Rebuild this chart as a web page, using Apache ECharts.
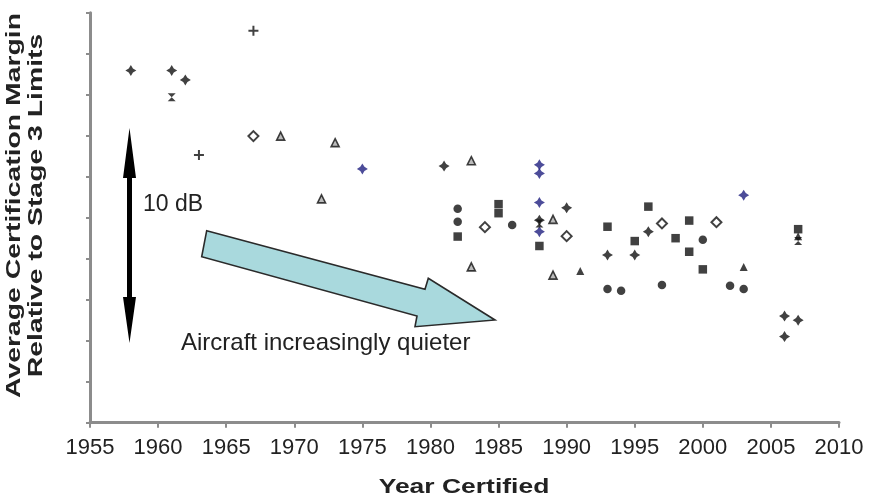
<!DOCTYPE html>
<html>
<head>
<meta charset="utf-8">
<script src="https://cdn.jsdelivr.net/npm/echarts@6/dist/echarts.min.js"></script>
<style>
html,body{margin:0;padding:0;background:#fff;}
#chart{width:869px;height:499px;}
</style>
</head>
<body>
<div id="chart"></div>
<script>
// X tick labels are years 1955..2010 (step 5); Y axis has 10 unlabeled ticks (relative dB scale)
var xTickYears = [1955, 1960, 1965, 1970, 1975, 1980, 1985, 1990, 1995, 2000, 2005, 2010];

// [year certified, relative margin (axis units)]
var starBlack = [[1958, 8.59], [1961, 8.59], [1962, 8.36], [1981, 6.26], [1988, 4.94], [1990, 5.24],
                 [1993, 4.09], [1995, 4.09], [1996, 4.66], [2006, 2.60], [2006, 2.10], [2007, 2.50]];
var plusThin = [[1963, 6.53], [1967, 9.56]];
var starBlue = [[1975, 6.19], [1988, 6.29], [1988, 6.08], [1988, 5.37], [1988, 4.66], [2003, 5.55]];
var hourglass = [[1961, 7.94], [1988, 4.86], [2007, 4.43]];
var openDiamond = [[1967, 6.99], [1984, 4.77], [1990, 4.55], [1997, 4.86], [2001, 4.89]];
var openTriangle = [[1969, 6.99], [1972, 5.46], [1973, 6.83], [1983, 6.39], [1983, 3.80], [1989, 4.96], [1989, 3.60]];
var filledTriangle = [[1991, 3.70], [2003, 3.80], [2007, 4.55]];
var circles = [[1982, 5.22], [1982, 4.90], [1986, 4.82], [1993, 3.26], [1994, 3.22], [1997, 3.36],
               [2000, 4.46], [2002, 3.34], [2003, 3.26]];
var squares = [[1982, 4.54], [1985, 5.33], [1985, 5.11], [1988, 4.31], [1993, 4.78], [1995, 4.43],
               [1996, 5.27], [1998, 4.50], [1999, 4.93], [1999, 4.17], [2000, 3.74], [2007, 4.72]];

var yTitle = 'Average Certification Margin\nRelative to Stage 3 Limits';
var xTitle = 'Year Certified';
var noteDb = '10 dB';
var noteTrend = 'Aircraft increasingly quieter';

var STAR = 'path://M5,0L6.9,3.1L10,5L6.9,6.9L5,10L3.1,6.9L0,5L3.1,3.1Z';
var PLUS = 'path://M4,0H6V4H10V6H6V10H4V6H0V4H4Z';
var HOUR = 'path://M0,0L10,0L5,5L10,10L0,10L5,5Z';
var BLACK = '#111111';
var BLUE = '#1f1f80';

function sc(name, data, symbol, size, style) {
  return {
    name: name, type: 'scatter', data: data, symbol: symbol, symbolSize: size,
    itemStyle: style, z: 5
  };
}

var chart = echarts.init(document.getElementById('chart'), null, {renderer: 'canvas'});
chart.setOption({
  animation: false,
  backgroundColor: '#ffffff',
  grid: {left: 90, right: 30, top: 12.7, bottom: 76.3, containLabel: false},
  xAxis: {
    type: 'value', min: xTickYears[0], max: xTickYears[xTickYears.length - 1], interval: 5,
    axisLine: {show: true, lineStyle: {color: '#8c8c8c', width: 3}},
    axisTick: {show: true, length: 5, lineStyle: {color: '#8c8c8c', width: 2}},
    axisLabel: {fontSize: 22, color: '#222', margin: 14, fontFamily: 'Liberation Sans',
                showMinLabel: true, showMaxLabel: true,
                formatter: function (v) { return String(v); }},
    splitLine: {show: false}
  },
  yAxis: {
    type: 'value', min: 0, max: 10, interval: 1,
    axisLine: {show: true, lineStyle: {color: '#8c8c8c', width: 3}},
    axisTick: {show: true, length: 4, lineStyle: {color: '#8c8c8c', width: 2}},
    axisLabel: {show: false},
    splitLine: {show: false}
  },
  series: [
    sc('starBlack', starBlack, STAR, 11, {color: BLACK}),
    sc('plusThin', plusThin, PLUS, 10, {color: BLACK}),
    sc('starBlue', starBlue, STAR, 11, {color: BLUE}),
    sc('hourglass', hourglass, HOUR, 8, {color: BLACK}),
    sc('openDiamond', openDiamond, 'diamond', 10, {color: '#fff', borderColor: BLACK, borderWidth: 2}),
    sc('openTriangle', openTriangle, 'triangle', 8, {color: '#aaaaaa', borderColor: '#111', borderWidth: 1.6}),
    sc('filledTriangle', filledTriangle, 'triangle', 8, {color: BLACK}),
    sc('circles', circles, 'circle', 8.5, {color: BLACK}),
    sc('squares', squares, 'rect', 8.5, {color: BLACK})
  ],
  graphic: [
    {
      type: 'text', x: 25, y: 205.5, rotation: Math.PI / 2, scaleX: 1.35, scaleY: 1,
      style: {text: yTitle, font: 'bold 21px "Liberation Sans"', fill: '#222',
              textAlign: 'center', textVerticalAlign: 'middle', lineHeight: 21.7}
    },
    {
      type: 'text', x: 464, y: 487.5, scaleX: 1.26, scaleY: 1,
      style: {text: xTitle, font: 'bold 21px "Liberation Sans"', fill: '#222',
              textAlign: 'center', textVerticalAlign: 'middle'}
    },
    {
      type: 'text', x: 143, y: 205,
      style: {text: noteDb, font: '23px "Liberation Sans"', fill: '#222',
              textAlign: 'left', textVerticalAlign: 'middle'}
    },
    {
      type: 'text', x: 181, y: 343,
      style: {text: noteTrend, font: '24px "Liberation Sans"', fill: '#222',
              textAlign: 'left', textVerticalAlign: 'middle'}
    },
    {
      type: 'polygon', z: 1,
      shape: {points: [[129.5, 128], [136, 178], [132, 178], [132, 297], [136, 297], [129.5, 343],
                       [123, 297], [127, 297], [127, 178], [123, 178]]},
      style: {fill: '#000'}
    },
    {
      type: 'polygon', z: 1,
      shape: {points: [[206.7, 230.7], [425, 289.3], [428.3, 278.3], [495, 320], [415, 326.7],
                       [417, 316], [201.7, 256.7]]},
      style: {fill: '#a9d9dd', stroke: '#2a2a2a', lineWidth: 1.6}
    }
  ]
});
</script>
</body>
</html>
